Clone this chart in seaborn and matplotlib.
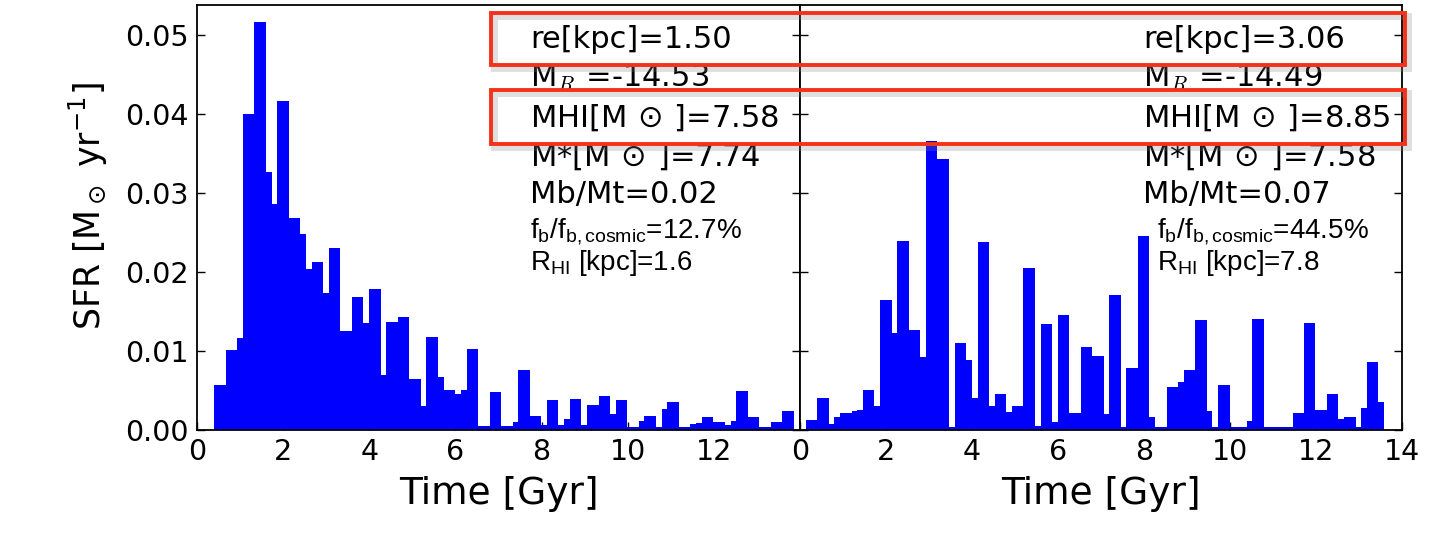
import numpy as np
import pandas as pd
import matplotlib
matplotlib.use("Agg")
import matplotlib.pyplot as plt
from matplotlib.patches import Rectangle
import seaborn as sns

# ---- data: star formation history in fixed-width time bins ----
BIN_GYR = 0.1332  # width of one time bin [Gyr]

sfr_left = [
    0, 0, 0,
    0.0057, 0.0057, 0.0101, 0.0101, 0.0117, 0.0400, 0.0400,
    0.0516, 0.0516, 0.0327, 0.0286, 0.0416, 0.0416, 0.0268, 0.0268,
    0.0248, 0.0204, 0.0213, 0.0213, 0.0173, 0.0230, 0.0230,
    0.0125, 0.0125, 0.0168, 0.0168, 0.0135, 0.0178, 0.0178,
    0.0070, 0.0137, 0.0137, 0.0143, 0.0143, 0.0065, 0.0065,
    0.0030, 0.0118, 0.0118, 0.0067, 0.0051, 0.0051, 0.0046,
    0.0051, 0.0102, 0.0102, 0.0005, 0.0005, 0.0048, 0.0048,
    0.0005, 0.0005, 0.0010, 0.0076, 0.0076, 0.0018, 0.0018,
    0.0006, 0.0038, 0.0038, 0.0006, 0.0014, 0.0039, 0.0039,
    0.0006, 0.0032, 0.0032, 0.0043, 0.0043, 0.0020, 0.0038, 0.0038,
    0.0004, 0.0004, 0.0011, 0.0018, 0.0018, 0.0004, 0.0026,
    0.0035, 0.0035, 0.0004, 0.0004, 0.0008, 0.0009, 0.0016, 0.0016,
    0.0010, 0.0010, 0.0006, 0.0011, 0.0049, 0.0049, 0.0017, 0.0017,
    0.0004, 0.0004, 0.0010, 0.0010, 0.0024, 0.0024,
]

sfr_right = [
    0,
    0.0013, 0.0013, 0.0040, 0.0040, 0.0008, 0.0016, 0.0022, 0.0022,
    0.0024, 0.0025, 0.0051, 0.0051, 0.0031, 0.0164, 0.0164, 0.0123,
    0.0239, 0.0239, 0.0126, 0.0126, 0.0093, 0.0366, 0.0366,
    0.0343, 0.0343, 0.0004, 0.0110, 0.0110, 0.0088, 0.0041,
    0.0238, 0.0238, 0.0030, 0.0046, 0.0046, 0.0023, 0.0030, 0.0030,
    0.0205, 0.0205, 0.0005, 0.0134, 0.0134, 0.0010, 0.0145, 0.0145,
    0.0022, 0.0022, 0.0105, 0.0105, 0.0094, 0.0094, 0.0020,
    0.0171, 0.0171, 0.0004, 0.0079, 0.0079, 0.0246, 0.0246, 0.0016,
    0.0004, 0.0004, 0.0054, 0.0054, 0.0061, 0.0076, 0.0076,
    0.0139, 0.0139, 0.0024, 0.0004, 0.0057, 0.0057,
    0.0004, 0.0004, 0.0004, 0.0011, 0.0141, 0.0141,
    0.0004, 0.0004, 0.0004, 0.0004, 0.0004,
    0.0022, 0.0022, 0.0135, 0.0135, 0.0025, 0.0025, 0.0045, 0.0045,
    0.0014, 0.0017, 0.0017, 0.0004, 0.0028, 0.0086, 0.0086, 0.0036,
    0, 0,
]

x_ticks_left = [0, 2, 4, 6, 8, 10, 12]
x_ticks_right = [0, 2, 4, 6, 8, 10, 12, 14]
y_ticks = [0.00, 0.01, 0.02, 0.03, 0.04, 0.05]

labels_left = {
    "re": "re[kpc]=1.50",
    "mr": r"M$_{R}$ =-14.53",
    "mhi": r"MHI[M$\,\odot\,$]=7.58",
    "mstar": r"M*[M$\,\odot\,$]=7.74",
    "mbmt": "Mb/Mt=0.02",
    "fb": r"f$_{\rm b}$/f$_{\rm b,cosmic}$=12.7%",
    "rhi": r"R$_{\rm HI}$ [kpc]=1.6",
}
labels_right = {
    "re": "re[kpc]=3.06",
    "mr": r"M$_{R}$ =-14.49",
    "mhi": r"MHI[M$\,\odot\,$]=8.85",
    "mstar": r"M*[M$\,\odot\,$]=7.58",
    "mbmt": "Mb/Mt=0.07",
    "fb": r"f$_{\rm b}$/f$_{\rm b,cosmic}$=44.5%",
    "rhi": r"R$_{\rm HI}$ [kpc]=7.8",
}


def sfh_frame(values):
    vals = np.asarray(values, dtype=float)
    centers = (np.arange(len(vals)) + 0.5) * BIN_GYR
    return pd.DataFrame({"time": centers, "sfr": vals}), len(vals)


sns.set_style("ticks")
plt.rcParams["font.family"] = ["DejaVu Sans"]
plt.rcParams["mathtext.fontset"] = "dejavusans"
plt.rcParams["mathtext.rm"] = "Liberation Sans"
plt.rcParams["mathtext.it"] = "Liberation Sans:italic"
plt.rcParams["mathtext.bf"] = "Liberation Sans:bold"
for key in ("text.color", "axes.labelcolor", "xtick.color", "ytick.color",
            "xtick.labelcolor", "ytick.labelcolor", "axes.edgecolor"):
    plt.rcParams[key] = "black"

W, H = 1445, 551
fig = plt.figure(figsize=(W / 100, H / 100), dpi=100)
fig.patch.set_facecolor("white")

ax_bottom, ax_top = 430, 5
axL = fig.add_axes([197 / W, (H - ax_bottom) / H, (800 - 197) / W, (ax_bottom - ax_top) / H])
axR = fig.add_axes([800 / W, (H - ax_bottom) / H, (1402 - 800) / W, (ax_bottom - ax_top) / H])

for ax, vals in ((axL, sfr_left), (axR, sfr_right)):
    df, nbins = sfh_frame(vals)
    sns.histplot(data=df, x="time", weights="sfr", bins=nbins,
                 binrange=(0, nbins * BIN_GYR), ax=ax,
                 color="#0000ff", alpha=1.0, linewidth=0)
    ax.set_xlim(0, 14)
    ax.set_ylim(0, 0.0538)
    ax.set_yticks(y_ticks)
    for s in ax.spines.values():
        s.set_visible(True)
        s.set_linewidth(1.3)
        s.set_color("black")
    ax.tick_params(axis="both", direction="in", length=6, width=1,
                   colors="black", labelcolor="black",
                   left=True, right=True, top=False, bottom=True,
                   labelsize=20.5, pad=6)
    ax.set_ylabel("")

axL.set_xticks(x_ticks_left)
axR.set_xticks(x_ticks_right)
axL.set_yticklabels([f"{v:.2f}" for v in y_ticks])
axR.tick_params(axis="y", labelleft=False)
for ax in (axL, axR):
    ax.set_xlabel("Time [Gyr]", fontsize=27, labelpad=7, color="black")

axL.set_ylabel(r"SFR [M$_\odot$ yr$^{-1}$]", fontsize=25, color="black")
axL.yaxis.set_label_coords(-0.145, 0.527)

# ---- galaxy property annotations ----
rows = ["re", "mr", "mhi", "mstar", "mbmt", "fb", "rhi"]
row_px = [40, 78, 118, 157, 195, 232, 263]


def annotate(ax, labels, x0_px, x0_small_px, left_px, width_px):
    for key, ypx in zip(rows, row_px):
        y = (ax_bottom - ypx) / (ax_bottom - ax_top)
        small = key in ("fb", "rhi")
        xpx = x0_small_px if small else x0_px
        x = (xpx - left_px) / width_px
        kw = dict(transform=ax.transAxes, va="center", ha="left", color="black")
        if key == "mr":
            ax.text(x, y, labels[key], fontsize=22, math_fontfamily="cm", **kw)
        elif small:
            ax.text(x, y, labels[key], fontsize=20, family="Liberation Sans",
                    math_fontfamily="custom", **kw)
        else:
            ax.text(x, y, labels[key], fontsize=22, math_fontfamily="dejavusans", **kw)


annotate(axL, labels_left, 530, 530, 197, 603)
annotate(axR, labels_right, 1143, 1157, 800, 602)

# ---- highlight boxes across both panels ----
for (y_top, y_bot) in ((13, 65), (90, 144)):
    x0, x1 = 491, 1405
    shadow = Rectangle(((x0 + 3) / W, (H - y_bot - 3) / H), (x1 - x0) / W, (y_bot - y_top) / H,
                       transform=fig.transFigure, fill=False, edgecolor="#808080",
                       linewidth=5, alpha=0.25, zorder=9)
    box = Rectangle((x0 / W, (H - y_bot) / H), (x1 - x0) / W, (y_bot - y_top) / H,
                    transform=fig.transFigure, fill=False, edgecolor="#f5311a",
                    linewidth=2.8, zorder=10)
    fig.add_artist(shadow)
    fig.add_artist(box)

fig.savefig("out.png", dpi=100, facecolor=fig.get_facecolor())
